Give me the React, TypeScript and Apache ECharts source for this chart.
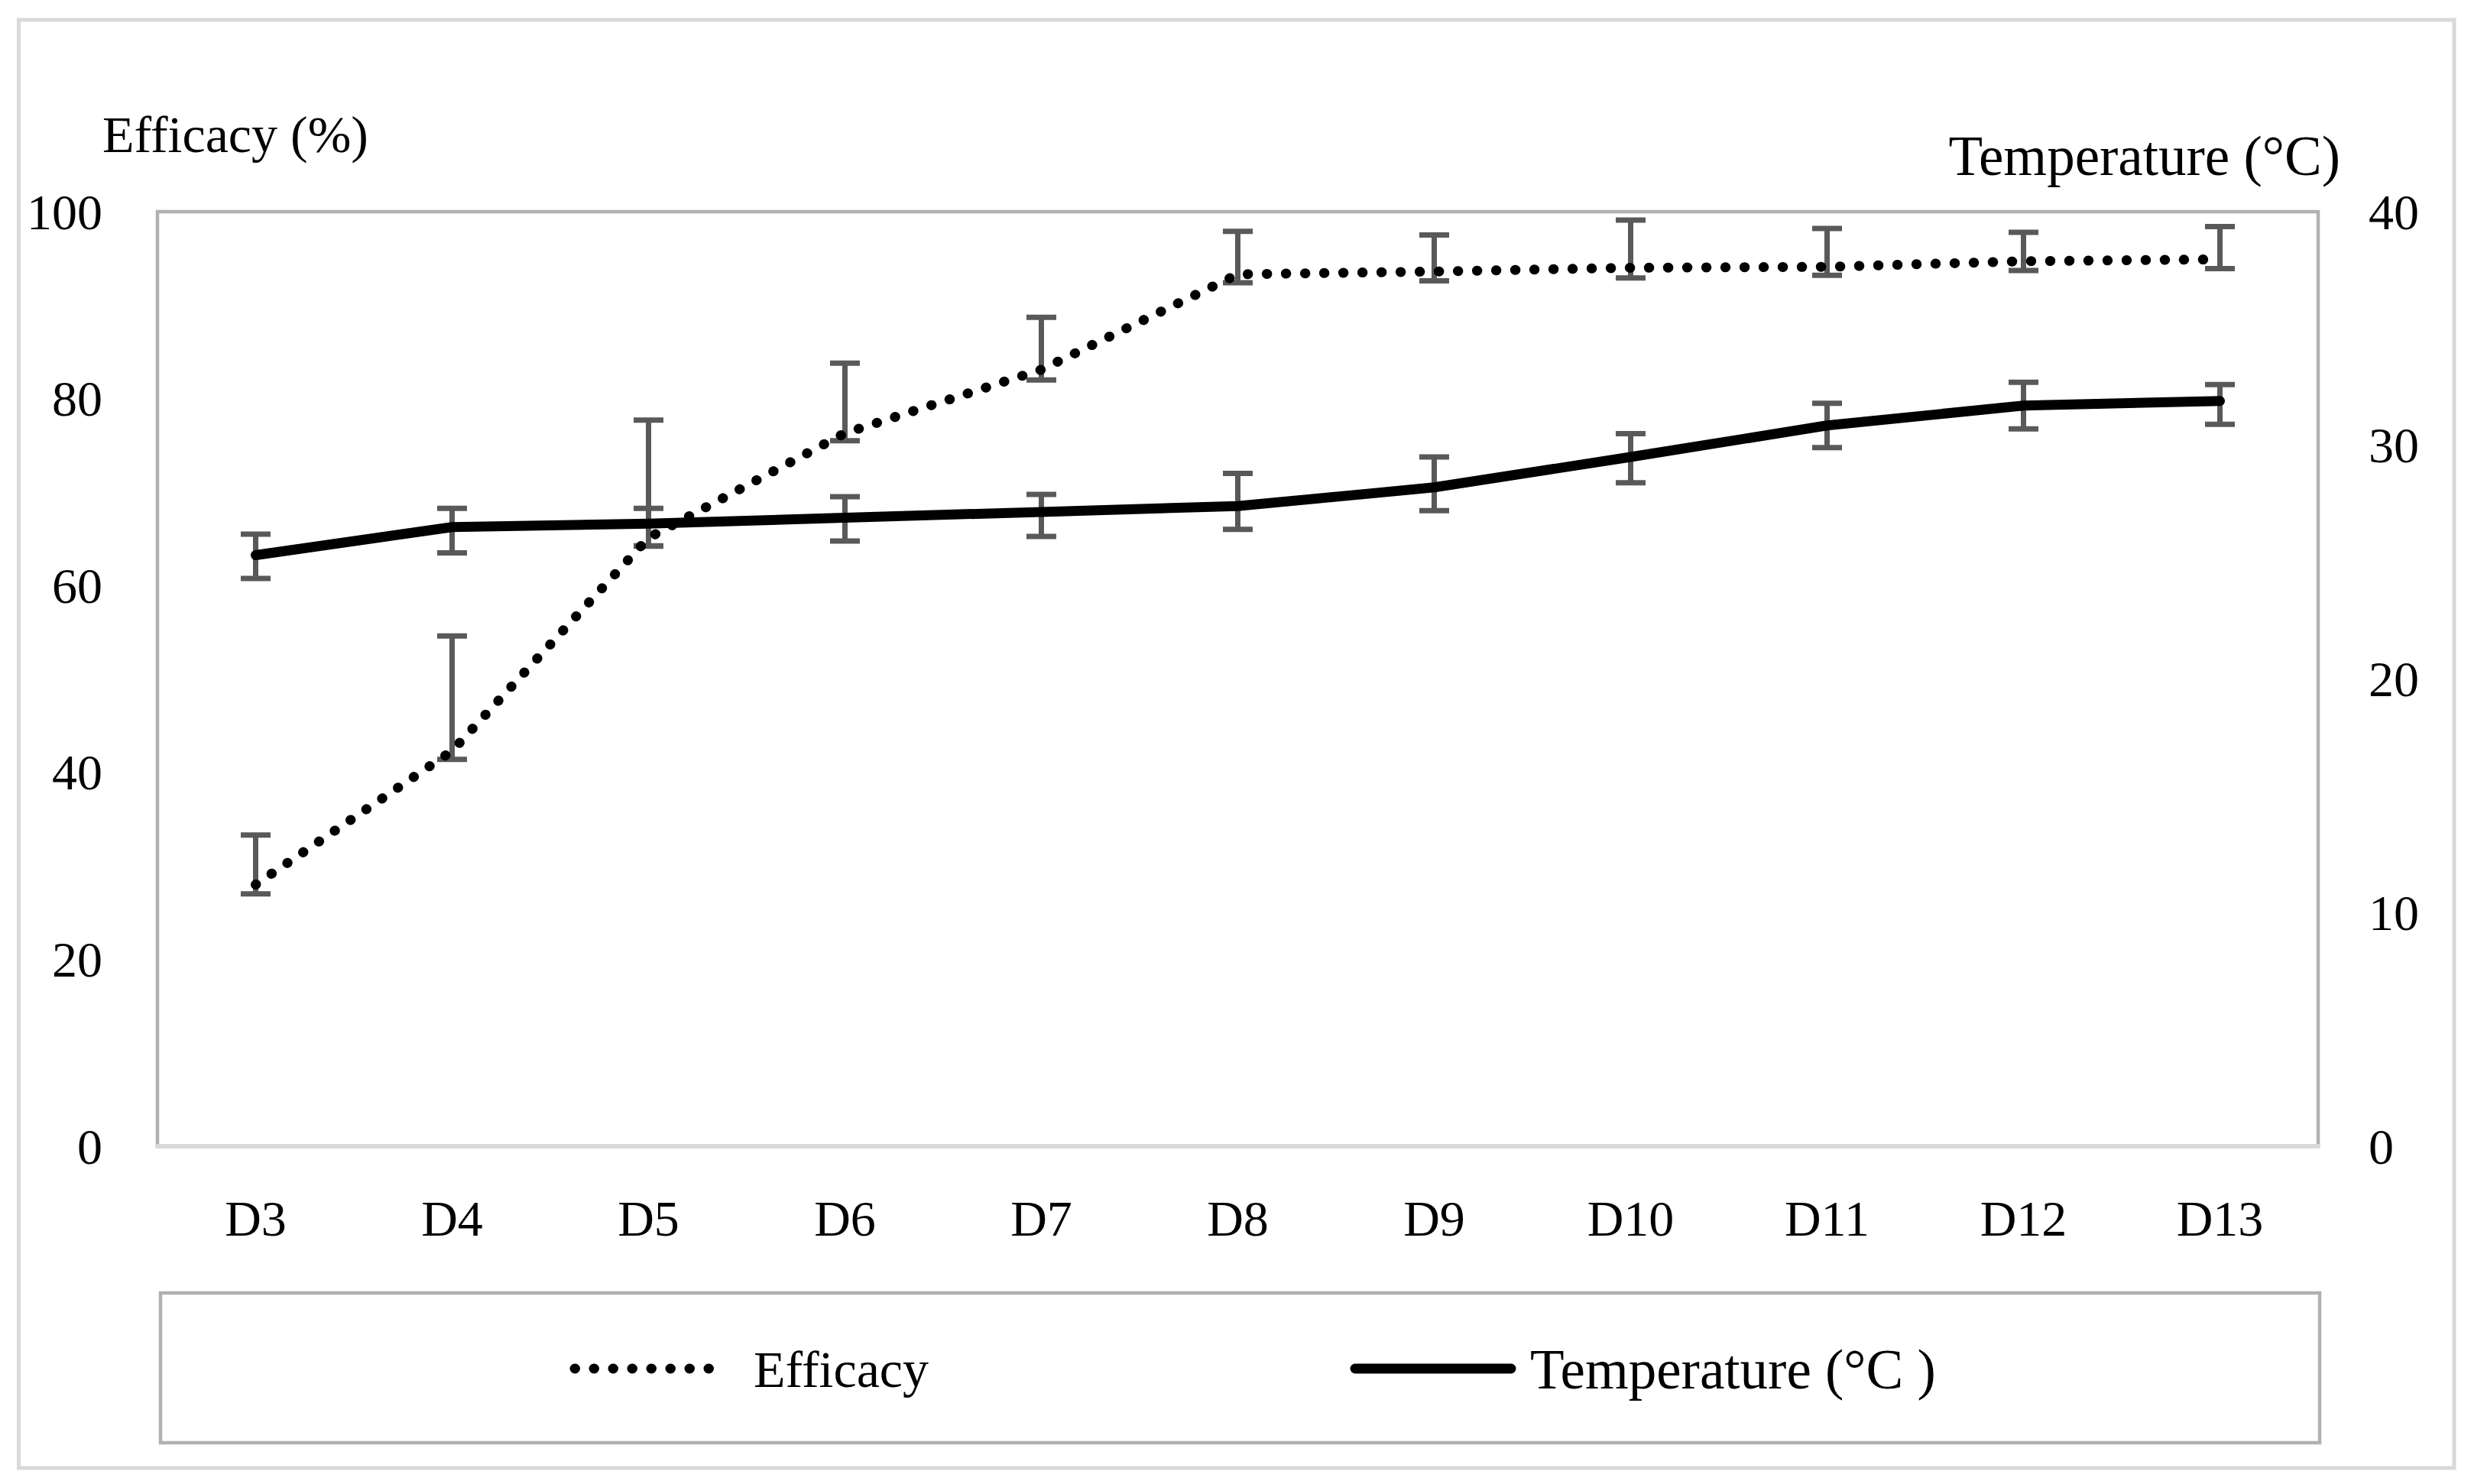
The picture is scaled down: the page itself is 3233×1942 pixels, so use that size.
import React, { useEffect, useRef } from "react";
import * as echarts from "echarts";

const categories = ["D3", "D4", "D5", "D6", "D7", "D8", "D9", "D10", "D11", "D12", "D13"];
const efficacy = [28.0, 42.3, 65.1, 76.3, 83.1, 93.3, 93.6, 94.0, 94.1, 94.7, 94.9];
const efficacyLow = [27.0, 41.4, 64.2, 75.5, 82.0, 92.4, 92.6, 92.9, 93.2, 93.7, 93.9];
const efficacyHigh = [33.3, 54.6, 77.7, 83.8, 88.7, 97.9, 97.5, 99.1, 98.2, 97.8, 98.4];
const temperature = [25.3, 26.5, 26.65, 26.9, 27.15, 27.4, 28.2, 29.5, 30.85, 31.7, 31.9];
const tempLow = [24.3, 25.4, 25.7, 25.9, 26.1, 26.4, 27.2, 28.4, 29.9, 30.7, 30.9];
const tempHigh = [26.2, 27.3, 27.3, 27.8, 27.9, 28.8, 29.5, 30.5, 31.8, 32.7, 32.6];
const leftTicks = { min: 0, max: 100, interval: 20 };
const rightTicks = { min: 0, max: 40, interval: 10 };

const FONT = "'Liberation Serif', 'Times New Roman', serif";
const ERR_COLOR = "#595959";

function errorRenderItem(params: any, api: any) {
  const idx = api.value(0);
  const lo = api.coord([idx, api.value(1)]);
  const hi = api.coord([idx, api.value(2)]);
  const hw = 19.5;
  const style = { stroke: ERR_COLOR, lineWidth: 7, fill: "none" };
  return {
    type: "group",
    children: [
      { type: "line", shape: { x1: lo[0], y1: lo[1], x2: hi[0], y2: hi[1] }, style },
      { type: "line", shape: { x1: lo[0] - hw, y1: lo[1], x2: lo[0] + hw, y2: lo[1] }, style },
      { type: "line", shape: { x1: hi[0] - hw, y1: hi[1], x2: hi[0] + hw, y2: hi[1] }, style },
    ],
  };
}

export default function App() {
  const ref = useRef<HTMLDivElement>(null);
  useEffect(() => {
    if (!ref.current) return;
    const chart = echarts.init(ref.current, null, { renderer: "svg" });
    const effErr = categories.map((_, i) => [i, efficacyLow[i], efficacyHigh[i]]);
    const tempErr = categories.map((_, i) => [i, tempLow[i], tempHigh[i]]);
    chart.setOption({
      animation: false,
      backgroundColor: "#ffffff",
      textStyle: { fontFamily: FONT },
      grid: {
        left: 206,
        top: 277,
        right: 200,
        bottom: 442,
        show: true,
        borderColor: "#b3b0b0",
        borderWidth: 4.5,
        backgroundColor: "transparent",
      },
      xAxis: {
        type: "category",
        data: categories,
        boundaryGap: true,
        axisLine: { show: true, lineStyle: { color: "#d9d9d9", width: 6 } },
        axisTick: { show: false },
        axisLabel: {
          color: "#000",
          fontFamily: FONT,
          fontSize: 66,
          lineHeight: 66,
          margin: 61,
          interval: 0,
        },
        splitLine: { show: false },
      },
      yAxis: [
        {
          type: "value",
          min: leftTicks.min,
          max: leftTicks.max,
          interval: leftTicks.interval,
          position: "left",
          axisLine: { show: false },
          axisTick: { show: false },
          splitLine: { show: false },
          axisLabel: { color: "#000", fontFamily: FONT, fontSize: 66, margin: 72 },
        },
        {
          type: "value",
          min: rightTicks.min,
          max: rightTicks.max,
          interval: rightTicks.interval,
          position: "right",
          axisLine: { show: false },
          axisTick: { show: false },
          splitLine: { show: false },
          axisLabel: { color: "#000", fontFamily: FONT, fontSize: 66, margin: 66 },
        },
      ],
      series: [
        {
          name: "Efficacy error",
          type: "custom",
          yAxisIndex: 0,
          renderItem: errorRenderItem,
          encode: { x: 0, y: [1, 2] },
          data: effErr,
          z: 1,
        },
        {
          name: "Temperature error",
          type: "custom",
          yAxisIndex: 1,
          renderItem: errorRenderItem,
          encode: { x: 0, y: [1, 2] },
          data: tempErr,
          z: 1,
        },
        {
          name: "Temperature (°C )",
          type: "line",
          yAxisIndex: 1,
          data: temperature,
          symbol: "none",
          showSymbol: false,
          lineStyle: { color: "#000", width: 13, cap: "round", join: "round" },
          z: 3,
        },
        {
          name: "Efficacy",
          type: "line",
          yAxisIndex: 0,
          data: efficacy,
          symbol: "none",
          showSymbol: false,
          lineStyle: { color: "#000", width: 13, type: [0.5, 24.5], cap: "round", join: "round" },
          z: 4,
        },
      ],
      graphic: [
        {
          type: "rect",
          silent: true,
          shape: { x: 24.5, y: 26, width: 3186.5, height: 1895 },
          style: { fill: "none", stroke: "#d9d9d9", lineWidth: 5 },
        },
        {
          type: "text",
          x: 134,
          y: 176,
          style: {
            text: "Efficacy (%)",
            font: `68px ${FONT}`,
            fill: "#000",
            textAlign: "left",
            textVerticalAlign: "middle",
            verticalAlign: "middle",
          },
        },
        {
          type: "text",
          x: 3062,
          y: 204,
          style: {
            text: "Temperature (°C)",
            font: `73px ${FONT}`,
            fill: "#000",
            align: "right",
            textAlign: "right",
            verticalAlign: "middle",
            textVerticalAlign: "middle",
          },
        },
        {
          type: "rect",
          silent: true,
          shape: { x: 210, y: 1692, width: 2825, height: 196 },
          style: { fill: "none", stroke: "#b3b0b0", lineWidth: 4.5 },
        },
        {
          type: "line",
          silent: true,
          shape: { x1: 752, y1: 1791, x2: 950, y2: 1791 },
          style: { stroke: "#000", lineWidth: 13, lineDash: [0.5, 24.5], lineCap: "round" },
        },
        {
          type: "text",
          x: 986,
          y: 1792,
          style: {
            text: "Efficacy",
            font: `68px ${FONT}`,
            fill: "#000",
            textAlign: "left",
            verticalAlign: "middle",
            textVerticalAlign: "middle",
          },
        },
        {
          type: "line",
          silent: true,
          shape: { x1: 1773, y1: 1791, x2: 1977, y2: 1791 },
          style: { stroke: "#000", lineWidth: 13, lineCap: "round" },
        },
        {
          type: "text",
          x: 2002,
          y: 1792,
          style: {
            text: "Temperature (°C )",
            font: `73px ${FONT}`,
            fill: "#000",
            textAlign: "left",
            verticalAlign: "middle",
            textVerticalAlign: "middle",
          },
        },
      ],
    });
    return () => chart.dispose();
  }, []);
  return (
    <div
      ref={ref}
      style={{ position: "absolute", left: 0, top: 0, width: 3233, height: 1942, background: "#fff" }}
    />
  );
}
